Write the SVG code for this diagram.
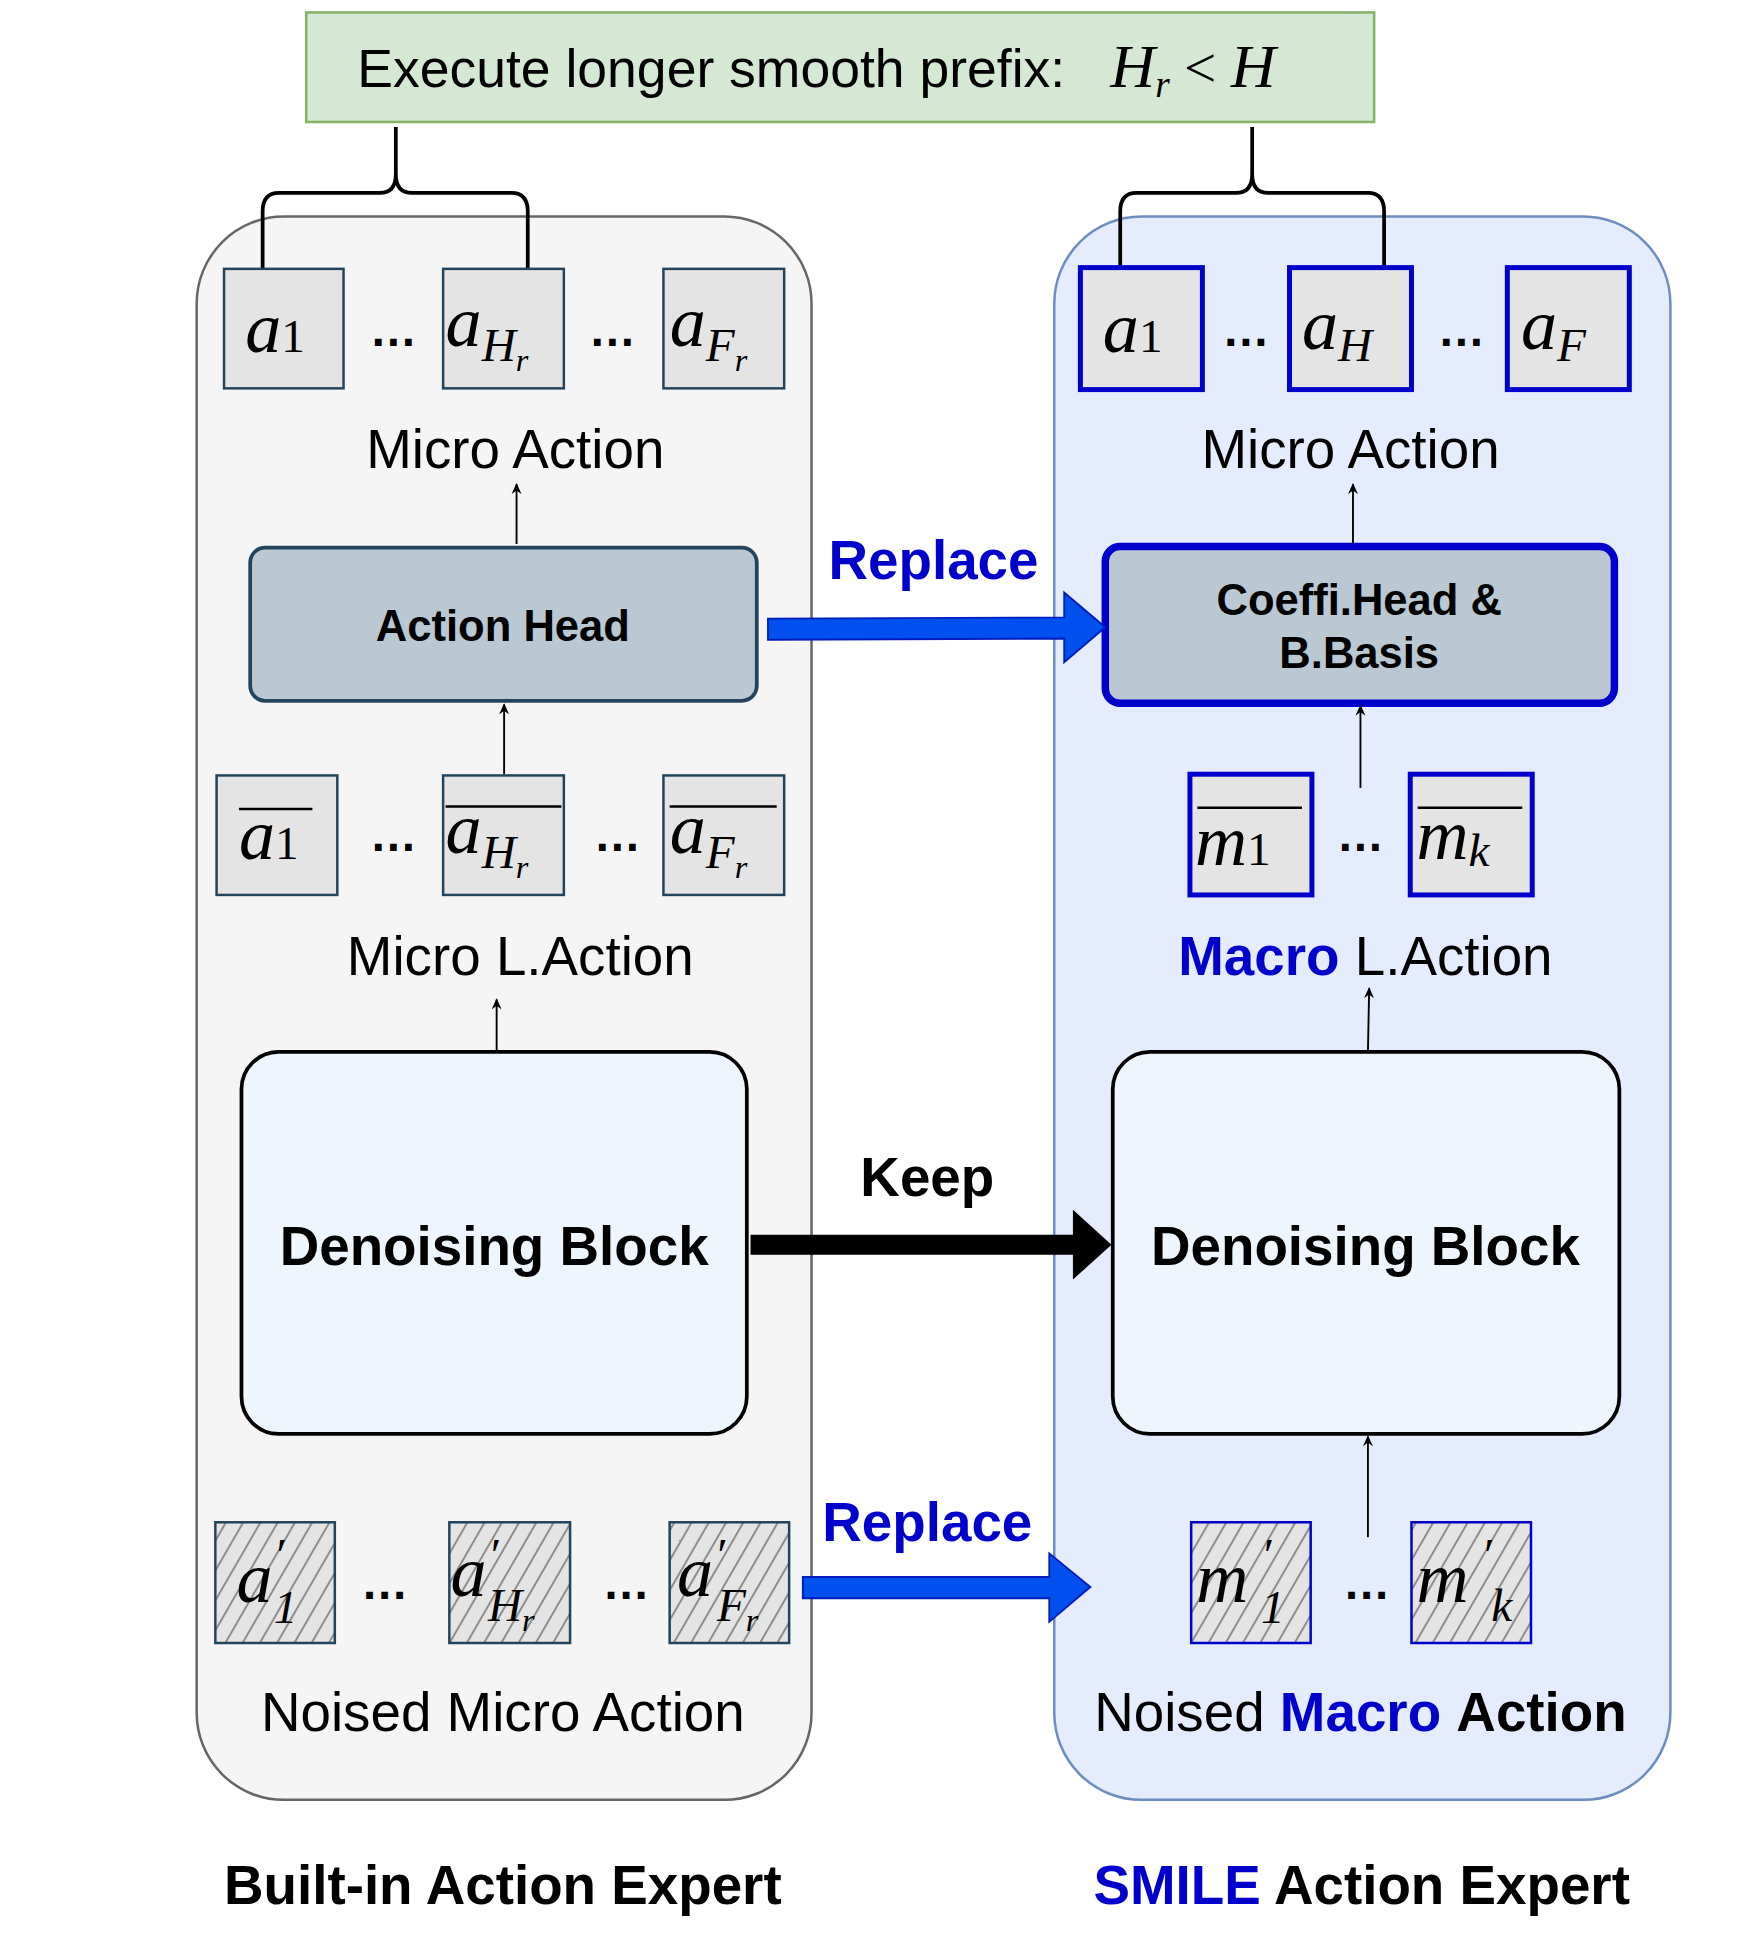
<svg xmlns="http://www.w3.org/2000/svg" width="1755" height="1947" viewBox="0 0 1755 1947">
<defs>
<style>
.s{font-family:"Liberation Sans",Arial,sans-serif}
.m{font-family:"Liberation Serif","DejaVu Serif",serif;font-style:italic}
.cell{fill:#e4e4e4;stroke:#23445d;stroke-width:2}
.bcell{fill:#e4e4e4;stroke:#0000cc;stroke-width:4}
.hcell{fill:url(#hatch);stroke:#23445d;stroke-width:2}
.hbcell{fill:url(#hatch);stroke:#0000cc;stroke-width:2}
.thin{stroke:#000;stroke-width:1.5;fill:none}
.blue{fill:#0000cc;font-weight:bold}
.dots{font-family:"Liberation Sans",Arial,sans-serif;font-size:38px;font-weight:bold}
</style>
<pattern id="hatch" patternUnits="userSpaceOnUse" width="12" height="12" patternTransform="rotate(30)">
<rect width="12" height="12" fill="#e4e4e4"/>
<line x1="0" y1="0" x2="0" y2="12" stroke="#888" stroke-width="3"/>
</pattern>
<marker id="ah" markerWidth="10" markerHeight="10" refX="8" refY="5" orient="auto" markerUnits="userSpaceOnUse">
<path d="M0,1 L9,5 L0,9 L3,5 Z" fill="#000"/>
</marker>
</defs>
<g transform="scale(1.2447)">
<g id="prefix">
<rect x="246" y="10" width="858" height="88" fill="#d5e8d4" stroke="#82b366" stroke-width="2"/>
<text x="287" y="70" class="s" font-size="43">Execute longer smooth prefix:</text>
<text x="892" y="70" class="m" font-size="50">H<tspan font-size="30" dy="8">r</tspan><tspan font-size="46" dy="-8" font-style="normal"> &lt; </tspan>H</text>
</g>
<g id="builtin">
<rect x="158" y="174" width="494" height="1272" rx="70" fill="#f5f5f5" stroke="#666" stroke-width="2"/>
</g>
<g id="smile">
<rect x="847" y="174" width="495" height="1272" rx="70" fill="#e5ecfd" stroke="#6c8ebf" stroke-width="2"/>
</g>
<g id="braces" fill="none" stroke="#000" stroke-width="3">
<path d="M318,102 V140 Q318,155 305,155 H224 Q211,155 211,170 V216 M318,140 Q318,155 331,155 H411 Q424,155 424,170 V216"/>
<path d="M1006,102 V140 Q1006,155 993,155 H913 Q900,155 900,170 V216 M1006,140 Q1006,155 1019,155 H1099 Q1112,155 1112,170 V216"/>
</g>
<g id="micro-actions-left">
<rect class="cell" x="180" y="216" width="96" height="96"/>
<rect class="cell" x="356" y="216" width="97" height="96"/>
<rect class="cell" x="533" y="216" width="97" height="96"/>
<text class="m" font-size="58" x="197" y="283">a<tspan font-size="38" font-style="normal">1</tspan></text>
<text class="m" font-size="58" x="358" y="278">a<tspan font-size="38" dy="12">H</tspan><tspan font-size="26" dy="8">r</tspan></text>
<text class="m" font-size="58" x="538" y="278">a<tspan font-size="38" dy="12">F</tspan><tspan font-size="26" dy="8">r</tspan></text>
<text class="dots" x="316" y="278" text-anchor="middle">…</text>
<text class="dots" x="492" y="278" text-anchor="middle">…</text>
<text class="s" font-size="44" x="414" y="376" text-anchor="middle">Micro Action</text>
</g>
<g id="micro-actions-right">
<rect class="bcell" x="868" y="215" width="98" height="98"/>
<rect class="bcell" x="1036" y="215" width="98" height="98"/>
<rect class="bcell" x="1211" y="215" width="98" height="98"/>
<text class="m" font-size="58" x="886" y="283">a<tspan font-size="38" font-style="normal">1</tspan></text>
<text class="m" font-size="58" x="1046" y="280">a<tspan font-size="38" dy="10">H</tspan></text>
<text class="m" font-size="58" x="1222" y="280">a<tspan font-size="38" dy="10">F</tspan></text>
<text class="dots" x="1001" y="278" text-anchor="middle">…</text>
<text class="dots" x="1174" y="278" text-anchor="middle">…</text>
<text class="s" font-size="44" x="1085" y="376" text-anchor="middle">Micro Action</text>
</g>
<g id="action-head">
<rect x="201" y="440" width="407" height="123" rx="12" fill="#bac8d3" stroke="#23445d" stroke-width="3"/>
<text class="s" font-size="35" font-weight="bold" x="404" y="515" text-anchor="middle">Action Head</text>
</g>
<g id="coeffi-head">
<rect x="888" y="439" width="409" height="126" rx="12" fill="#bac8d3" stroke="#0000cc" stroke-width="6"/>
<text class="s" font-size="35" font-weight="bold" x="1092" y="494" text-anchor="middle">Coeffi.Head &amp;</text>
<text class="s" font-size="35" font-weight="bold" x="1092" y="537" text-anchor="middle">B.Basis</text>
</g>
<g id="latent-left">
<rect class="cell" x="174" y="623" width="97" height="96"/>
<rect class="cell" x="356" y="623" width="97" height="96"/>
<rect class="cell" x="533" y="623" width="97" height="96"/>
<line x1="192" y1="650" x2="251" y2="650" stroke="#000" stroke-width="2"/>
<line x1="358" y1="648" x2="451" y2="648" stroke="#000" stroke-width="2"/>
<line x1="538" y1="648" x2="624" y2="648" stroke="#000" stroke-width="2"/>
<text class="m" font-size="58" x="192" y="690">a<tspan font-size="38" font-style="normal">1</tspan></text>
<text class="m" font-size="58" x="358" y="685">a<tspan font-size="38" dy="12">H</tspan><tspan font-size="26" dy="8">r</tspan></text>
<text class="m" font-size="58" x="538" y="685">a<tspan font-size="38" dy="12">F</tspan><tspan font-size="26" dy="8">r</tspan></text>
<text class="dots" x="316" y="684" text-anchor="middle">…</text>
<text class="dots" x="496" y="684" text-anchor="middle">…</text>
<text class="s" font-size="44" x="418" y="783" text-anchor="middle">Micro L.Action</text>
</g>
<g id="latent-right">
<rect class="bcell" x="956" y="622" width="98" height="97"/>
<rect class="bcell" x="1133" y="622" width="98" height="97"/>
<line x1="962" y1="649" x2="1046" y2="649" stroke="#000" stroke-width="2"/>
<line x1="1139" y1="649" x2="1223" y2="649" stroke="#000" stroke-width="2"/>
<text class="m" font-size="58" x="960" y="695">m<tspan font-size="38" font-style="normal">1</tspan></text>
<text class="m" font-size="58" x="1138" y="690">m<tspan font-size="38" dy="6">k</tspan></text>
<text class="dots" x="1093" y="684" text-anchor="middle">…</text>
<text class="s" font-size="44" x="1097" y="783" text-anchor="middle"><tspan class="blue">Macro</tspan> L.Action</text>
</g>
<g id="denoise-left">
<rect x="194" y="845" width="406" height="307" rx="30" fill="#eef5fd" stroke="#000" stroke-width="3"/>
<text class="s" font-size="44" font-weight="bold" x="397" y="1016" text-anchor="middle">Denoising Block</text>
</g>
<g id="denoise-right">
<rect x="894" y="845" width="407" height="307" rx="30" fill="#eef5fd" stroke="#000" stroke-width="3"/>
<text class="s" font-size="44" font-weight="bold" x="1097" y="1016" text-anchor="middle">Denoising Block</text>
</g>
<g id="noised-left">
<rect class="hcell" x="173" y="1223" width="96" height="97"/>
<rect class="hcell" x="361" y="1223" width="97" height="97"/>
<rect class="hcell" x="538" y="1223" width="96" height="97"/>
<text class="m" font-size="58" x="190" y="1287">a</text>
<text class="m" font-size="38" x="220" y="1262" font-style="normal">′</text>
<text class="m" font-size="38" x="220" y="1304" font-style="normal">1</text>
<text class="m" font-size="58" x="362" y="1282">a</text>
<text class="m" font-size="38" x="392" y="1262" font-style="normal">′</text>
<text class="m" font-size="38" x="392" y="1302">H<tspan font-size="26" dy="8">r</tspan></text>
<text class="m" font-size="58" x="544" y="1282">a</text>
<text class="m" font-size="38" x="574" y="1262" font-style="normal">′</text>
<text class="m" font-size="38" x="576" y="1302">F<tspan font-size="26" dy="8">r</tspan></text>
<text class="dots" x="309" y="1285" text-anchor="middle">…</text>
<text class="dots" x="503" y="1285" text-anchor="middle">…</text>
<text class="s" font-size="44" x="404" y="1391" text-anchor="middle">Noised Micro Action</text>
</g>
<g id="noised-right">
<rect class="hbcell" x="957" y="1223" width="96" height="97"/>
<rect class="hbcell" x="1134" y="1223" width="96" height="97"/>
<text class="m" font-size="58" x="961" y="1287">m</text>
<text class="m" font-size="38" x="1013" y="1262" font-style="normal">′</text>
<text class="m" font-size="38" x="1013" y="1304" font-style="normal">1</text>
<text class="m" font-size="58" x="1138" y="1287">m</text>
<text class="m" font-size="38" x="1190" y="1262" font-style="normal">′</text>
<text class="m" font-size="38" x="1198" y="1302">k</text>
<text class="dots" x="1098" y="1285" text-anchor="middle">…</text>
<text class="s" font-size="44" x="1093" y="1391" text-anchor="middle">Noised <tspan class="blue">Macro</tspan> <tspan font-weight="bold">Action</tspan></text>
</g>
<g id="connectors">
<line class="thin" x1="415" y1="437" x2="415" y2="389" marker-end="url(#ah)"/>
<line class="thin" x1="1087" y1="437" x2="1087" y2="389" marker-end="url(#ah)"/>
<line class="thin" x1="405" y1="622" x2="405" y2="566" marker-end="url(#ah)"/>
<line class="thin" x1="1093" y1="633" x2="1093" y2="567" marker-end="url(#ah)"/>
<line class="thin" x1="399" y1="845" x2="399" y2="803" marker-end="url(#ah)"/>
<line class="thin" x1="1099" y1="845" x2="1100" y2="794" marker-end="url(#ah)"/>
<line class="thin" x1="1099" y1="1235" x2="1099" y2="1154" marker-end="url(#ah)"/>
<path d="M617,497 L855,496 L855,476 L888,504 L855,532 L855,513 L617,514 Z" fill="#0050ef" stroke="#001dbc" stroke-width="1.5"/>
<text class="s blue" font-size="44" x="750" y="465" text-anchor="middle">Replace</text>
<path d="M603,992 L862,992 L862,972 L893,1000 L862,1028 L862,1008 L603,1008 Z" fill="#000"/>
<text class="s" font-size="44" font-weight="bold" x="745" y="961" text-anchor="middle">Keep</text>
<path d="M645,1267 L843,1267 L843,1248 L876,1275 L843,1303 L843,1284 L645,1284 Z" fill="#0050ef" stroke="#001dbc" stroke-width="1.5"/>
<text class="s blue" font-size="44" x="745" y="1238" text-anchor="middle">Replace</text>
</g>
<g id="titles">
<text class="s" font-size="44" font-weight="bold" x="404" y="1530" text-anchor="middle">Built-in Action Expert</text>
<text class="s" font-size="44" font-weight="bold" x="1094" y="1530" text-anchor="middle"><tspan fill="#0000cc">SMILE</tspan> Action Expert</text>
</g>
</g>
</svg>
